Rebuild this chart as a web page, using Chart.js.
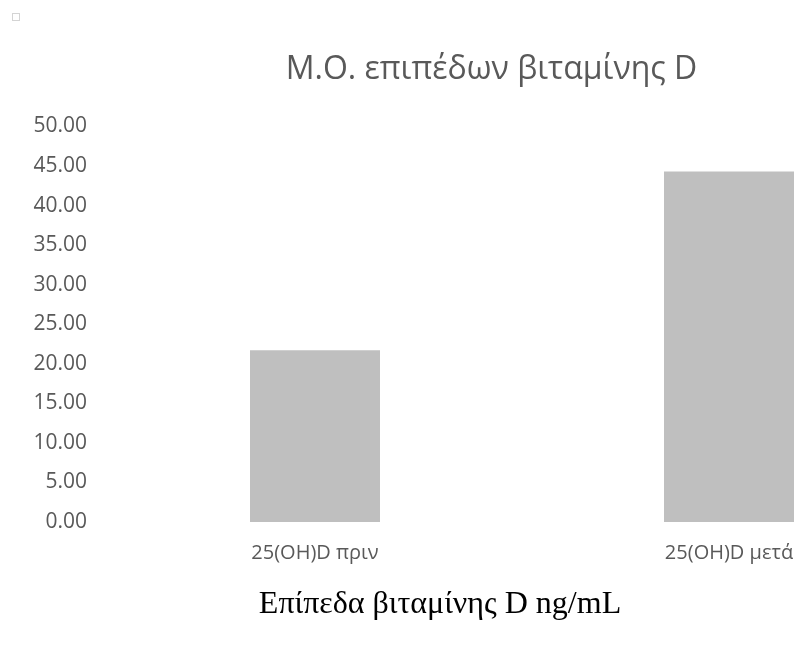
<!DOCTYPE html>
<html lang="el">
<head>
    <meta charset="UTF-8">
    <title>Μ.Ο. επιπέδων βιταμίνης D</title>
    <script src="https://cdn.jsdelivr.net/npm/chart.js"></script>
    <style>
        html, body { margin: 0; padding: 0; background: #fff; overflow: hidden; }
        #wrap { position: relative; width: 800px; height: 646px; overflow: hidden; }
        #chart { position: absolute; left: 0; top: 0; }
        #marker { position: absolute; left: 12px; top: 13px; width: 6px; height: 6px; border: 1px solid #d4d4d4; }
        #xTitle {
            position: absolute; left: 0; width: 880px; top: 584px; text-align: center;
            font-family: "Liberation Serif", "DejaVu Serif", serif; font-size: 32px; line-height: 36px; color: #000;
        }
    </style>
</head>
<body>
<div id="wrap">
    <canvas id="chart" width="982" height="646"></canvas>
    <div id="marker"></div>
    <div id="xTitle">Επίπεδα βιταμίνης D ng/mL</div>
</div>
<script>
    const categories = ['25(OH)D πριν', '25(OH)D μετά'];
    const meanValues = [21.7, 44.3];
    const yTicks = [0, 5, 10, 15, 20, 25, 30, 35, 40, 45, 50];

    const textColor = '#595959';

    new Chart(document.getElementById('chart').getContext('2d'), {
        type: 'bar',
        data: {
            labels: categories,
            datasets: [{
                data: meanValues,
                backgroundColor: '#bfbfbf',
                borderWidth: 0,
                categoryPercentage: 1,
                barPercentage: 0.314
            }]
        },
        options: {
            responsive: false,
            animation: false,
            layout: { padding: { left: 28, right: 27, top: 0, bottom: 70 } },
            plugins: {
                legend: { display: false },
                tooltip: { enabled: false },
                title: {
                    display: true,
                    text: 'Μ.Ο. επιπέδων βιταμίνης D',
                    color: textColor,
                    font: { family: '"Open Sans", sans-serif', size: 32, weight: 'normal' },
                    padding: { top: 51, bottom: 37 }
                }
            },
            scales: {
                x: {
                    grid: { display: false },
                    border: { display: false },
                    ticks: { color: textColor, font: { family: '"Open Sans", sans-serif', size: 20 }, padding: 11 }
                },
                y: {
                    min: 0,
                    max: 50,
                    afterBuildTicks: axis => { axis.ticks = yTicks.map(v => ({ value: v })); },
                    afterFit: axis => { axis.width = 80; },
                    grid: { display: false },
                    border: { display: false },
                    ticks: {
                        color: textColor,
                        font: { family: '"Open Sans", sans-serif', size: 21 },
                        padding: 13,
                        callback: v => Number(v).toFixed(2)
                    }
                },
                // empty right-hand axis: only reserves space so the title centre matches
                yRight: {
                    position: 'right',
                    afterFit: axis => { axis.width = 19; },
                    grid: { display: false },
                    border: { display: false },
                    ticks: { display: false }
                }
            }
        }
    });
</script>
</body>
</html>
